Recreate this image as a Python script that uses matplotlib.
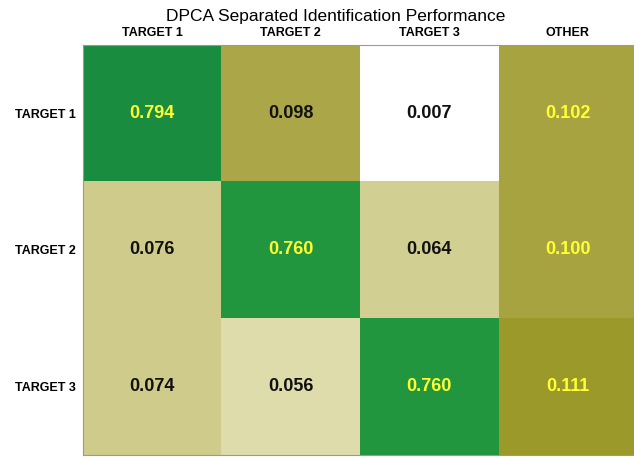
import numpy as np
import matplotlib
matplotlib.use("Agg")
import matplotlib.pyplot as plt
from matplotlib.colors import LinearSegmentedColormap

plt.rcParams['font.family'] = ['Liberation Sans', 'DejaVu Sans']

# Confusion values
row_labels = ['TARGET 1', 'TARGET 2', 'TARGET 3']
col_labels = ['TARGET 1', 'TARGET 2', 'TARGET 3', 'OTHER']
values = [
    [0.794, 0.098, 0.007, 0.102],
    [0.076, 0.760, 0.064, 0.100],
    [0.074, 0.056, 0.760, 0.111],
]

vmax = 0.8
cmap = LinearSegmentedColormap.from_list('dpca', [
    (0.0, '#ffffff'),
    (0.01, '#ffffff'),
    (0.056 / vmax, '#dedba8'),
    (0.064 / vmax, '#d0cd8e'),
    (0.076 / vmax, '#cfcb8a'),
    (0.098 / vmax, '#aaa646'),
    (0.111 / vmax, '#9a9828'),
    (0.76 / vmax, '#23963f'),
    (1.0, '#198c40'),
])

data = np.array(values)
fig = plt.figure(figsize=(6.34, 4.59), dpi=100)
ax = fig.add_axes([0.131, 0.009, 0.874, 0.893])
ax.imshow(data, cmap=cmap, vmin=0, vmax=vmax, aspect='auto')

for i in range(data.shape[0]):
    for j in range(data.shape[1]):
        yellow = (i == j) or (j == data.shape[1] - 1)
        ax.text(j, i, f'{data[i, j]:.3f}', ha='center', va='center',
                fontsize=13, fontweight='bold',
                color='#ffff33' if yellow else '#111111')

ax.set_xticks(range(len(col_labels)))
ax.set_xticklabels(col_labels, fontsize=9, fontweight='bold')
ax.set_yticks(range(len(row_labels)))
ax.set_yticklabels(row_labels, fontsize=9, fontweight='bold')
ax.xaxis.tick_top()
ax.tick_params(length=0, pad=4)
ax.tick_params(axis='y', pad=5)
for s in ax.spines.values():
    s.set_color('#999999')
    s.set_linewidth(0.8)

fig.text(0.53, 0.965, 'DPCA Separated Identification Performance',
         ha='center', va='center', fontsize=12.5)

fig.savefig('out.png', dpi=100)
